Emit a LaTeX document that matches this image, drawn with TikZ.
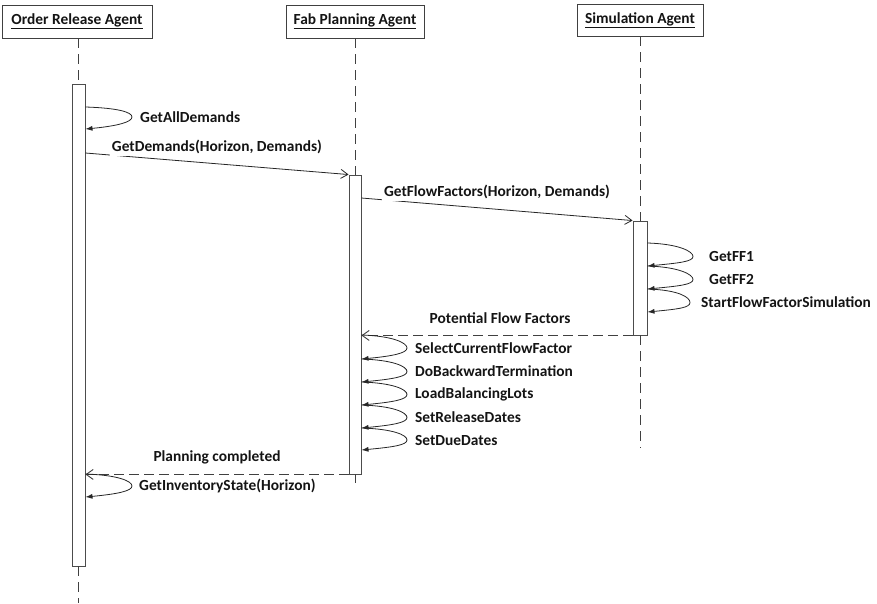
\documentclass[tikz,border=0pt]{standalone}
\usepackage{fontspec}
\setmainfont{Carlito}
\usetikzlibrary{arrows.meta,calc}
\begin{document}
\begin{tikzpicture}[x=1pt,y=-1pt,
  every node/.style={font=\fontsize{15.4}{18}\selectfont\bfseries, text=black!92},
  head/.style={draw=black!75, line width=0.9pt, fill=white, minimum height=33pt, inner sep=0pt},
  bar/.style={draw=black!70, line width=0.9pt, fill=white, minimum width=13pt, inner sep=0pt},
  life/.style={draw=black!75, line width=0.9pt, dash pattern=on 10pt off 6pt},
  msg/.style={draw=black!85, line width=0.8pt, -{Straight Barb[length=7pt,width=9pt]}},
  ret/.style={draw=black!75, line width=0.9pt, dash pattern=on 10pt off 5pt, -{Straight Barb[length=7pt,width=10pt]}},
  self/.style={draw=black!85, line width=0.8pt, -{Latex[length=7pt,width=5pt]}},
  lbl/.style={anchor=west, inner sep=0pt},
  mlbl/.style={fill=white, inner sep=2pt}
]
\useasboundingbox (0,0) rectangle (877,603);

% headers
\node[head, minimum width=150pt] (ora) at (77,21.5) {\underline{Order Release Agent}};
\node[head, minimum width=138pt] (fpa) at (355,21.5) {\underline{Fab Planning Agent}};
\node[head, minimum width=126pt, minimum height=32pt] (sa) at (640,20) {\underline{Simulation Agent}};

% activation bars
\node[bar, minimum height=482pt] (orabar) at (78.5,325) {};
\node[bar, minimum width=12pt, minimum height=299pt] (fpabar) at (355,324.5) {};
\node[bar, minimum width=14pt, minimum height=114pt] (sabar) at (640,278) {};

% lifelines
\coordinate (oraend) at (78.5,603);
\coordinate (fpaend) at (355,483);
\coordinate (saend) at (640,448);
\draw[life] (ora.south -| orabar.north) -- (orabar.north);
\draw[life] (orabar.south) -- (oraend);
\draw[life] (fpa.south -| fpabar.north) -- (fpabar.north);
\draw[life] (fpabar.south) -- (fpaend);
\draw[life] (sa.south -| sabar.north) -- (sabar.north);
\draw[life] (sabar.south) -- (saend);

% ORA: GetAllDemands
\path (orabar.east |- 0,107) coordinate (a1) (orabar.east |- 0,129) coordinate (a2) (132,117) coordinate (a1t);
\draw[self] (a1) .. controls +(32,1) and +(0,-5) .. (a1t) .. controls +(0,5) and +(32,-3) .. (a2);
\node[lbl] (l1) at (140,117) {GetAllDemands};

% GetDemands
\path (orabar.east |- 0,153) coordinate (b1) (fpabar.north west) coordinate (b2);
\draw[msg] (b1) -- (b2);
\node[mlbl] (l2) at (217,147) {GetDemands(Horizon, Demands)};

% GetFlowFactors
\path (fpabar.east |- 0,198) coordinate (c1) (sabar.north west) coordinate (c2);
\draw[msg] (c1) -- (c2);
\node[mlbl] (l3) at (497,192) {GetFlowFactors(Horizon, Demands)};

% SA self messages
\foreach \ya/\yb/\xt/\xl/\t [count=\i] in {243/266/693/709/GetFF1, 266/289/693/709/GetFF2, 289/312/690/701/StartFlowFactorSimulation}{
  \path (sabar.east |- 0,\ya) coordinate (s\i a) (sabar.east |- 0,\yb) coordinate (s\i b) (\xt,{(\ya+\yb)/2+2}) coordinate (s\i t);
  \draw[self] (s\i a) .. controls +(32,1) and +(0,-5) .. (s\i t) .. controls +(0,5) and +(32,-3) .. (s\i b);
  \node[lbl] (sl\i) at (\xl,{(\ya+\yb)/2+2}) {\t};
}

% Potential Flow Factors
\path (sabar.south west) coordinate (d1) (fpabar.east |- sabar.south) coordinate (d2);
\draw[ret] (d1) -- (d2);
\node[inner sep=0pt] (l4) at (500,318) {Potential Flow Factors};

% FPA self messages
\foreach \ya/\yb/\t [count=\i] in {335/359/SelectCurrentFlowFactor, 359/382/DoBackwardTermination, 382/405/LoadBalancingLots, 405/428/SetReleaseDates, 428/450/SetDueDates}{
  \path (fpabar.east |- 0,\ya) coordinate (f\i a) (fpabar.east |- 0,\yb) coordinate (f\i b) (407,{(\ya+\yb)/2+1}) coordinate (f\i t);
  \draw[self] (f\i a) .. controls +(32,1) and +(0,-5) .. (f\i t) .. controls +(0,5) and +(32,-3) .. (f\i b);
  \node[lbl] (fl\i) at (415,{(\ya+\yb)/2+1}) {\t};
}

% Planning completed
\path (fpabar.south west) coordinate (e1) (orabar.east |- fpabar.south) coordinate (e2);
\draw[ret] (e1) -- (e2);
\node[inner sep=0pt] (l5) at (217,457) {Planning completed};

% GetInventoryState
\path (orabar.east |- 0,474) coordinate (g1) (orabar.east |- 0,497) coordinate (g2) (132,486) coordinate (gt);
\draw[self] (g1) .. controls +(32,1) and +(0,-5) .. (gt) .. controls +(0,5) and +(32,-3) .. (g2);
\node[lbl] (l6) at (139,486) {GetInventoryState(Horizon)};
\end{tikzpicture}
\end{document}
